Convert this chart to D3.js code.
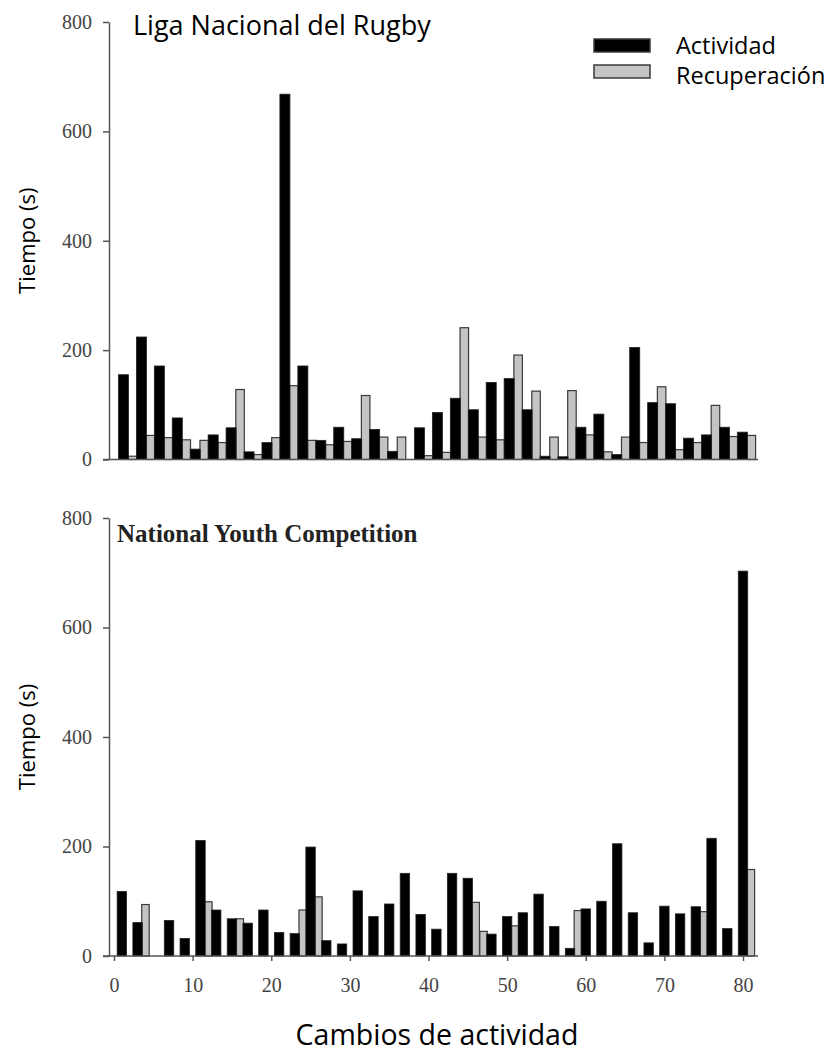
<!DOCTYPE html>
<html>
<head>
<meta charset="utf-8">
<script src="https://cdn.jsdelivr.net/npm/d3@7"></script>
<style>
  body { margin: 0; background: #fff; }
  .tick text { font-family: "Liberation Serif", serif; fill: #444; }
</style>
</head>
<body>
<div id="chart"></div>
<script>
// Liga Nacional del Rugby (top panel), change number of each bar
const ligaActividadX = [...d3.range(1, 32, 2), ...d3.range(34, 71, 2)];
const ligaActividad = [155, 224, 171, 76, 19, 45, 58, 14, 31, 668, 171, 35, 59, 38, 55, 15,
  58, 86, 112, 91, 141, 148, 91, 6, 5, 59, 83, 9, 205, 104, 102, 39, 45, 59, 50];
const ligaRecuperacionX = ligaActividadX.map(d => d + 1);
const ligaRecuperacion = [6, 44, 40, 36, 35, 31, 128, 9, 40, 135, 35, 27, 33, 117, 41, 41,
  7, 13, 241, 41, 36, 191, 125, 41, 126, 45, 14, 41, 31, 133, 18, 31, 99, 42, 44];

// National Youth Competition (bottom panel)
const juvenilActividadX = [1, 3, 7, 9, 11, 13, 15, 17, 19, 21, 23, 25, 27, 29, 31, 33, 35, 37, 39, 41, 43, 45,
  48, 50, 52, 54, 56, 58, 60, 62, 64, 66, 68, 70, 72, 74, 76, 78, 80];
const juvenilActividad = [118, 61, 65, 32, 211, 84, 68, 60, 84, 43, 41, 199, 28, 22, 119, 72, 95, 151, 76, 49, 151, 142,
  40, 72, 79, 113, 54, 14, 86, 100, 205, 79, 24, 91, 77, 90, 215, 50, 703];
const juvenilRecuperacionX = [4, 12, 16, 24, 26, 46, 47, 51, 59, 75, 81];
const juvenilRecuperacion = [94, 99, 68, 84, 108, 98, 45, 55, 83, 81, 158];

const yTicks = [0, 200, 400, 600, 800];
const xTicks = [0, 10, 20, 30, 40, 50, 60, 70, 80];

const width = 834, height = 1053;
const sans = '"Open Sans", "Noto Sans", sans-serif';

const svg = d3.select('#chart')
  .append('svg')
  .attr('width', width)
  .attr('height', height);

function drawPanel(opts) {
  const x = d3.scaleLinear().domain(opts.xDomain).range(opts.xRange);
  const y = d3.scaleLinear().domain([0, 800]).range(opts.yRange);
  const unit = x(1) - x(0);
  const g = svg.append('g');

  const rec = opts.recX.map((d, i) => ({ x: d, v: opts.rec[i] }));
  const act = opts.actX.map((d, i) => ({ x: d, v: opts.act[i] }));

  g.selectAll('rect.rec')
    .data(rec)
    .enter()
    .append('rect')
    .attr('class', 'rec')
    .attr('x', d => x(d.x) - unit * 0.95 / 2)
    .attr('width', unit * 0.95)
    .attr('y', d => y(d.v))
    .attr('height', d => y(0) - y(d.v))
    .attr('fill', '#c4c4c4')
    .attr('stroke', '#3a3a3a')
    .attr('stroke-width', 1.2);

  g.selectAll('rect.act')
    .data(act)
    .enter()
    .append('rect')
    .attr('class', 'act')
    .attr('x', d => x(d.x) - unit * opts.actW / 2)
    .attr('width', unit * opts.actW)
    .attr('y', d => y(d.v))
    .attr('height', d => y(0) - y(d.v))
    .attr('fill', '#000')
    .attr('stroke', '#222')
    .attr('stroke-width', 0.8);

  // y axis
  const yAxis = g.append('g')
    .attr('transform', `translate(${opts.axisX},0)`)
    .call(d3.axisLeft(y).tickValues(yTicks).tickSize(6).tickPadding(11).tickSizeOuter(0));
  yAxis.selectAll('text').style('font-size', '20px');
  yAxis.selectAll('line, path').attr('stroke', '#555').attr('stroke-width', 1.5);

  // baseline
  g.append('line')
    .attr('x1', opts.axisX - 6)
    .attr('x2', opts.axisEnd)
    .attr('y1', y(0))
    .attr('y2', y(0))
    .attr('stroke', '#555')
    .attr('stroke-width', 1.5);

  if (opts.xTicks) {
    const xAxis = g.append('g')
      .attr('transform', `translate(0,${y(0)})`)
      .call(d3.axisBottom(x).tickValues(opts.xTicks).tickFormat(d3.format('d')).tickSize(5).tickPadding(17).tickSizeOuter(0));
    xAxis.select('.domain').remove();
    xAxis.selectAll('text').style('font-size', '20px');
    xAxis.selectAll('line').attr('stroke', '#555').attr('stroke-width', 1.5);
  }

  svg.append('text')
    .attr('transform', `translate(35,${(opts.yRange[0] + opts.yRange[1]) / 2}) rotate(-90)`)
    .attr('text-anchor', 'middle')
    .style('font-family', sans)
    .style('font-size', '22px')
    .text('Tiempo (s)');
}

drawPanel({
  actX: ligaActividadX, act: ligaActividad,
  recX: ligaRecuperacionX, rec: ligaRecuperacion,
  xDomain: [0, 72], xRange: [114.5, 760.3],
  yRange: [459.5, 22],
  axisX: 109, axisEnd: 758,
  actW: 1.12
});

drawPanel({
  actX: juvenilActividadX, act: juvenilActividad,
  recX: juvenilRecuperacionX, rec: juvenilRecuperacion,
  xDomain: [0, 80], xRange: [114, 743],
  yRange: [956, 518],
  axisX: 109, axisEnd: 758,
  actW: 1.2,
  xTicks: xTicks
});

// titles
svg.append('text')
  .attr('x', 133)
  .attr('y', 35)
  .style('font-family', sans)
  .style('font-size', '27px')
  .text('Liga Nacional del Rugby');

svg.append('text')
  .attr('x', 117)
  .attr('y', 542)
  .style('font-family', '"Liberation Serif", serif')
  .style('font-weight', 'bold')
  .style('font-size', '25px')
  .style('fill', '#222')
  .text('National Youth Competition');

svg.append('text')
  .attr('x', 437)
  .attr('y', 1045)
  .attr('text-anchor', 'middle')
  .style('font-family', sans)
  .style('font-size', '28.5px')
  .text('Cambios de actividad');

// legend
const legendItems = ['Actividad', 'Recuperación'];
const legendFill = ['#000', '#c4c4c4'];
const legend = svg.append('g').attr('transform', 'translate(594,39)');
legend.selectAll('rect')
  .data(legendItems)
  .enter()
  .append('rect')
  .attr('x', 0)
  .attr('y', (d, i) => i * 26)
  .attr('width', 56)
  .attr('height', 13)
  .attr('fill', (d, i) => legendFill[i])
  .attr('stroke', '#3a3a3a')
  .attr('stroke-width', 1.5);
legend.selectAll('text')
  .data(legendItems)
  .enter()
  .append('text')
  .attr('x', 82)
  .attr('y', (d, i) => i * 30 + 15)
  .style('font-family', sans)
  .style('font-size', '23.5px')
  .text(d => d);
</script>
</body>
</html>
